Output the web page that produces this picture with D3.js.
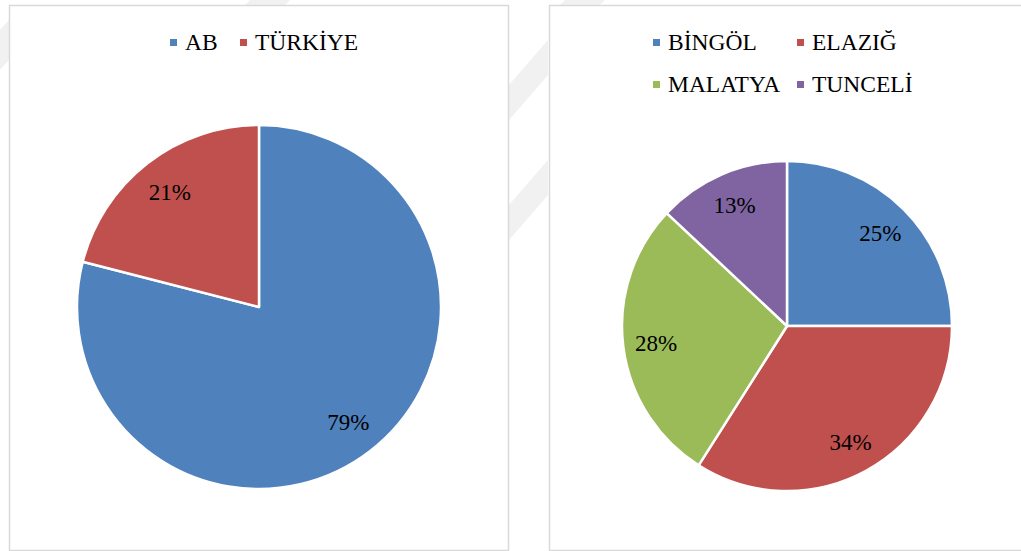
<!DOCTYPE html>
<html>
<head>
<meta charset="utf-8">
<script src="https://cdn.jsdelivr.net/npm/d3@7"></script>
<style>
  html, body { margin: 0; padding: 0; background: #fff; }
  svg { display: block; }
</style>
</head>
<body>
<div id="chart-area"></div>
<script>
// Data
const leftNames = ['AB', 'TÜRKİYE'];
const leftValues = [79, 21];
const rightNames = ['BİNGÖL', 'ELAZIĞ', 'MALATYA', 'TUNCELİ'];
const rightValues = [25, 34, 28, 13];
const sliceColors = ['#4f81bd', '#c0504d', '#9bbb59', '#8064a2'];

const width = 1021;
const height = 551;
const serif = "'Liberation Serif', 'Times New Roman', Tinos, 'DejaVu Serif', serif";

const svg = d3.select('#chart-area')
  .append('svg')
  .attr('width', width)
  .attr('height', height);

// faint watermark bands behind the panels
const bands = [
  [[509, 120], [509, 85], [548, 40], [548, 75]],
  [[509, 240], [509, 205], [548, 160], [548, 195]],
  [[0, 70], [0, 30], [9, 20], [9, 60]],
  [[250, 0], [290, 0], [285, 5], [245, 5]],
  [[560, 5], [600, 5], [605, 0], [565, 0]],
];
svg.selectAll('polygon.band')
  .data(bands)
  .enter()
  .append('polygon')
  .attr('class', 'band')
  .attr('points', (d) => d.map((p) => p.join(',')).join(' '))
  .attr('fill', '#f1f1f1');

// Panels
const panels = [
  { x: 9.5, y: 5.5, w: 499, h: 545 },
  { x: 549.5, y: 5.5, w: 490, h: 545 },
];
svg.selectAll('rect.panel')
  .data(panels)
  .enter()
  .append('rect')
  .attr('class', 'panel')
  .attr('x', (d) => d.x)
  .attr('y', (d) => d.y)
  .attr('width', (d) => d.w)
  .attr('height', (d) => d.h)
  .attr('fill', '#fff')
  .attr('stroke', '#d9d9d9')
  .attr('stroke-width', 1.5);

function drawPie(names, values, cx, cy, r) {
  const color = d3.scaleOrdinal().domain(names).range(sliceColors);
  const pie = d3.pie().sort(null).value((d) => d.value);
  const arcs = pie(names.map((name, i) => ({ name, value: values[i] })));
  const arc = d3.arc().innerRadius(0).outerRadius(r);
  const labelArc = d3.arc().innerRadius(r * 0.8).outerRadius(r * 0.8);
  const total = d3.sum(values);

  const g = svg.append('g').attr('transform', `translate(${cx}, ${cy})`);

  g.selectAll('path')
    .data(arcs)
    .enter()
    .append('path')
    .attr('d', arc)
    .attr('fill', (d) => color(d.data.name))
    .attr('stroke', '#fff')
    .attr('stroke-width', 2.5)
    .attr('stroke-linejoin', 'round');

  g.selectAll('text')
    .data(arcs)
    .enter()
    .append('text')
    .attr('transform', (d) => `translate(${labelArc.centroid(d)})`)
    .attr('text-anchor', 'middle')
    .attr('dy', '0.35em')
    .attr('font-family', serif)
    .attr('font-size', 23)
    .attr('fill', '#000')
    .text((d) => Math.round(d.data.value / total * 100) + '%');

  return color;
}

function drawLegend(names, color, positions) {
  const rows = svg.append('g')
    .selectAll('g')
    .data(names)
    .enter()
    .append('g')
    .attr('transform', (d, i) => `translate(${positions[i][0]}, ${positions[i][1]})`);
  rows.append('rect')
    .attr('x', 0)
    .attr('y', -11)
    .attr('width', 7)
    .attr('height', 7)
    .attr('fill', (d) => color(d));
  rows.append('text')
    .attr('x', 15)
    .attr('y', 0)
    .attr('font-family', serif)
    .attr('font-size', 23.5)
    .attr('fill', '#000')
    .text((d) => d);
}

const leftColor = drawPie(leftNames, leftValues, 259, 307, 182);
drawLegend(leftNames, leftColor, [[170, 50], [240, 50]]);

const rightColor = drawPie(rightNames, rightValues, 787, 326, 165);
drawLegend(rightNames, rightColor, [[653, 50], [797, 50], [653, 92], [797, 92]]);
</script>
</body>
</html>
